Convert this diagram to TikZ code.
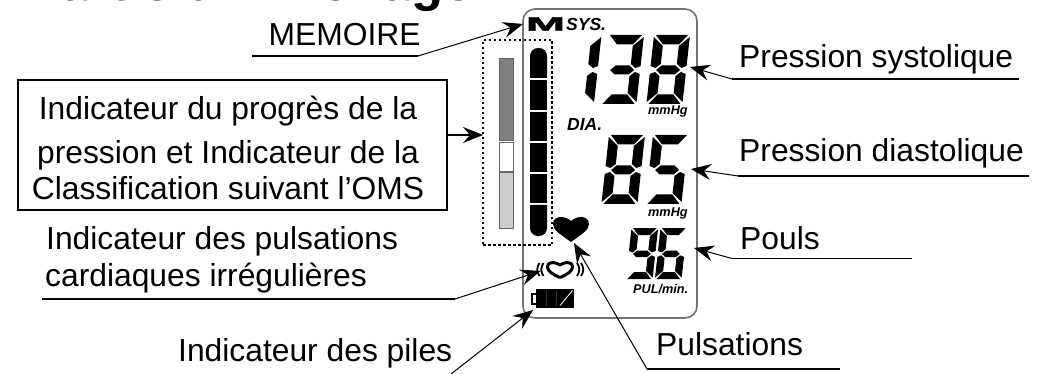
\documentclass[tikz,border=0pt]{standalone}
\usepackage{fontspec}
\setmainfont{Liberation Sans}
\usetikzlibrary{arrows.meta, positioning}

\tikzset{
	lcdA/.pic={\fill (2,0) -- (34,0) -- (26,9.5) -- (10,9.5) -- cycle;},
	lcdB/.pic={\fill (36,2) -- (36,31) -- (31,33) -- (26,29) -- (26,11) -- cycle;},
	lcdC/.pic={\fill (36,67) -- (26,58) -- (26,41) -- (31,37) -- (36,39) -- cycle;},
	lcdD/.pic={\fill (2,69) -- (34,69) -- (26,59.5) -- (10,59.5) -- cycle;},
	lcdE/.pic={\fill (0,67) -- (10,58) -- (10,41) -- (5,37) -- (0,39) -- cycle;},
	lcdF/.pic={\fill (0,2) -- (10,11) -- (10,29) -- (5,33) -- (0,31) -- cycle;},
	lcdG/.pic={\fill (6,35) -- (11,30.5) -- (25,30.5) -- (30,35) -- (25,39.5) -- (11,39.5) -- cycle;},
}
\newcommand{\lcddigit}[4]{
	\begin{scope}[shift={(#1,#2)}, xslant=.11, scale=#3, transform shape]
		\foreach \seg in {#4} {\pic {lcd\seg};}
	\end{scope}
}

\begin{document}
\begin{tikzpicture}[
		x=1pt, y=-1pt,
		>={Stealth[length=20pt, width=16pt, inset=7pt]},
		label/.style={anchor=base west, inner sep=0pt, font=\fontsize{31.8}{36}\selectfont},
		boxline/.style={anchor=base, inner sep=0pt, font=\fontsize{31.8}{36}\selectfont},
		unit/.style={anchor=base west, inner sep=0pt, font=\fontsize{12.7}{14}\selectfont\bfseries\itshape},
		tag/.style={anchor=base west, inner sep=0pt, font=\fontsize{17.5}{20}\selectfont\bfseries\itshape},
		rule/.style={line width=1.7pt},
		pointer/.style={->, line width=1pt},
		cell/.style={draw=black!60, line width=1pt},
	]
	\useasboundingbox (0,0) rectangle (1041,374);

	\node [anchor=base west, inner sep=0pt, font=\fontsize{52.7}{56}\selectfont\bfseries] (title) at (25,1) {Partie d’Affichage};

	% display
	\draw [black!55, line width=1.6pt, rounded corners=12pt] (523,9) rectangle (697,318);
	\node [draw, dash pattern=on 2.5pt off 2.5pt, line width=2pt, inner sep=0pt, minimum width=69pt, minimum height=205pt] (range) at (517.5,142.5) {};

	\draw [cell, fill=black!50] (499,59) rectangle (513,141);
	\draw [cell, fill=white] (499,143) rectangle (513,172);
	\draw [cell, fill=black!20] (499,173) rectangle (513,228);

	\fill [rounded corners=8pt] (530,78) -- (530,48) -- (547,48) -- (547,78);
	\foreach \ytop/\ybot in {80/110, 112/141, 143/172, 174/203} {
		\fill (530,\ytop) rectangle (547,\ybot);
	}
	\fill [rounded corners=8pt] (530,205) -- (530,236) -- (547,236) -- (547,205);

	\node [inner sep=0pt, xscale=2.4, font=\fontsize{19.5}{20}\selectfont\bfseries\addfontfeatures{FakeBold=2}] (mem) at (545.5,24) {M};
	\node [tag] (sys) at (566,31) {SYS.};
	\node [tag] (dia) at (567,131) {DIA.};
	\node [unit] (mmhga) at (648,115) {mmHg};
	\node [unit] (mmhgb) at (648,217) {mmHg};
	\node [unit] (pulmin) at (633,293) {PUL/min.};

	\lcddigit{565.5}{35}{1}{B,C}
	\lcddigit{608}{35}{1}{A,B,G,C,D}
	\lcddigit{654}{35}{1}{A,B,C,D,E,F,G}
	\lcddigit{609}{135}{1}{A,B,C,D,E,F,G}
	\lcddigit{653}{135}{1}{A,F,G,C,D}
	\lcddigit{631.5}{228}{.74}{A,B,F,G,C,D}
	\lcddigit{660.5}{228}{.74}{A,F,G,E,C,D}

	% hearts and battery
	\fill (571,242) .. controls (560,234) and (553,230) .. (553,224) .. controls (553,219) and (557,217) .. (561,217)
		.. controls (565,217) and (569,219) .. (571,221) .. controls (573,219) and (577,217) .. (581,217)
		.. controls (585,217) and (589,219) .. (589,224) .. controls (589,230) and (582,234) .. (571,242);
	\draw [line width=3pt] (560,277.5) .. controls (552,274) and (547.5,271) .. (547.5,267) .. controls (547.5,263) and (551,262.5) .. (553,262.5)
		.. controls (556,262.5) and (558,264) .. (560,265) .. controls (562,264) and (564,262.5) .. (567,262.5)
		.. controls (569,262.5) and (572.5,263) .. (572.5,267) .. controls (572.5,271) and (568,274) .. (560,277.5);
	\foreach \xa in {537.5,541.5} {
		\draw [line width=1.8pt] (\xa+2,263) .. controls (\xa-1,267) and (\xa-1,272) .. (\xa+2,276);
	}
	\foreach \xa in {577,581} {
		\draw [line width=1.8pt] (\xa,263) .. controls (\xa+3,267) and (\xa+3,272) .. (\xa,276);
	}
	\fill (536,289) rectangle (574,308);
	\draw [line width=1.6pt] (536,294) -- (532,294) -- (532,304) -- (536,304);
	\draw [white, line width=.8pt] (560,305.5) -- (572.5,290.5);
	\draw [black!80, line width=.3pt] (546,291) -- (546,306) (556,291) -- (556,306);

	% labels
	\node [label] (memoire) at (268.5,46) {MEMOIRE};
	\draw [line width=2pt] (18,80) rectangle (447,210);
	\node [boxline] (linea) at (228,120) {Indicateur du progrès de la};
	\node [boxline] (lineb) at (228,164) {pression et Indicateur de la};
	\node [boxline] (linec) at (228,200) {Classification suivant l’OMS};
	\node [label] (pulsa) at (46,249) {Indicateur des pulsations};
	\node [label] (pulsb) at (45,286) {cardiaques irrégulières};
	\node [label] (piles) at (178,361) {Indicateur des piles};
	\node [label] (systole) at (739,68) {Pression systolique};
	\node [label] (diastole) at (739,162) {Pression diastolique};
	\node [label] (pouls) at (740,249) {Pouls};
	\node [label] (pulsations) at (656,355) {Pulsations};

	% underlines and pointers
	\coordinate (memoireL) at (252,56);
	\coordinate (memoireR) at (418,56);
	\coordinate (memoireT) at (523,24);
	\draw [rule] (memoireL) -- (memoireR);
	\draw [pointer] (memoireR) -- (memoireT);

	\coordinate (boxout) at (447,135);
	\coordinate (boxin) at (483,135);
	\draw [->, line width=1.7pt] (boxout) -- (boxin);

	\coordinate (sysL) at (732,79);
	\coordinate (sysR) at (1019,79);
	\coordinate (sysT) at (690,67);
	\draw [rule] (sysL) -- (sysR);
	\draw [pointer] (sysL) -- (sysT);

	\coordinate (diaL) at (738,176);
	\coordinate (diaR) at (1029,176);
	\coordinate (diaT) at (691,169);
	\draw [rule] (diaL) -- (diaR);
	\draw [pointer] (diaL) -- (diaT);

	\coordinate (poulsL) at (732,258.5);
	\coordinate (poulsR) at (912,258.5);
	\coordinate (poulsT) at (694,248);
	\draw [rule] (poulsL) -- (poulsR);
	\draw [pointer] (poulsL) -- (poulsT);

	\coordinate (irrL) at (42,299);
	\coordinate (irrR) at (455,299);
	\coordinate (irrT) at (540.5,271);
	\draw [rule] (irrL) -- (irrR);
	\draw [pointer] (irrR) -- (irrT);

	\coordinate (pilesS) at (451,374);
	\coordinate (pilesT) at (533,310);
	\draw [pointer] (pilesS) -- (pilesT);

	\coordinate (heartL) at (647,369);
	\coordinate (heartR) at (840,369);
	\coordinate (heartT) at (574,243);
	\draw [rule] (heartL) -- (heartR);
	\draw [pointer] (heartL) -- (heartT);
\end{tikzpicture}
\end{document}
